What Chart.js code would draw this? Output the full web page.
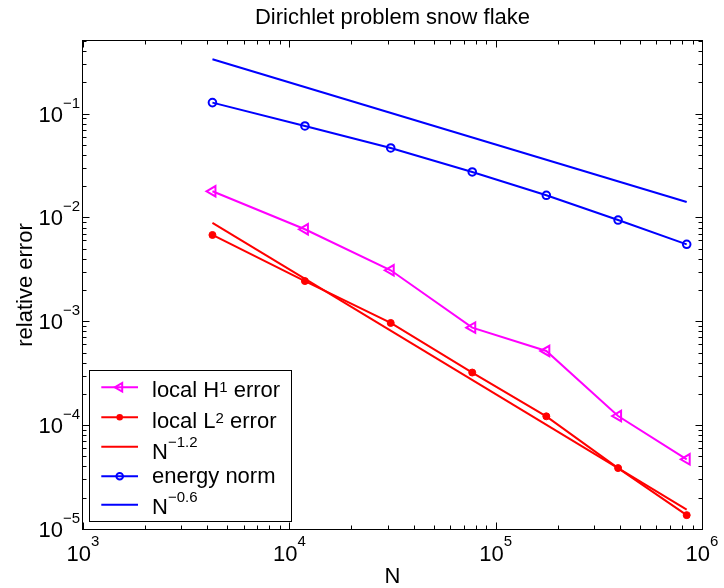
<!DOCTYPE html>
<html>
<head>
<meta charset="utf-8">
<script src="https://cdn.jsdelivr.net/npm/chart.js@4.4.0/dist/chart.umd.min.js"></script>
<style>
  html, body { margin: 0; padding: 0; background: #fff; }
  #wrap { width: 724px; height: 588px; }
</style>
</head>
<body>
<div id="wrap"><canvas id="myChart" width="724" height="588"></canvas></div>
<script>
// valeurs
const nValues = [4240, 11900, 31000, 77000, 176000, 392000, 843000];
const h1Error = [0.01786, 0.00769, 0.0031, 0.000869, 0.000518, 0.0001225, 0.0000469];
const l2Error = [0.00678, 0.00244, 0.000964, 0.000321, 0.0001216, 0.0000386, 0.0000136];
const energyNorm = [0.1276, 0.076, 0.0467, 0.0274, 0.01633, 0.00944, 0.00551];
// droites de reference (debut et fin)
const nEnds = [4240, 843000];
const rate12 = [0.00885, 0.0000154];
const rate06 = [0.3336, 0.01409];
// ticks
const xDecades = [3, 4, 5, 6];
const yDecades = [-5, -4, -3, -2, -1];

const FONT = '"Liberation Sans", Arial, sans-serif';
const MAGENTA = '#ff00ff', RED = '#ff0000', BLUE = '#0000ff';

function pts(xs, ys) {
    return xs.map((x, i) => ({ x: x, y: ys[i] }));
}

// texte avec exposant, retourne la largeur
function richText(ctx, parts, x, y, align, size, supSize, raise) {
    let w = 0;
    parts.forEach(p => {
        ctx.font = (p.sup ? supSize : size) + 'px ' + FONT;
        w += ctx.measureText(p.t).width;
    });
    let cx = x;
    if (align === 'center') cx = x - w / 2;
    if (align === 'right') cx = x - w;
    ctx.textAlign = 'left';
    ctx.textBaseline = 'alphabetic';
    parts.forEach(p => {
        ctx.font = (p.sup ? supSize : size) + 'px ' + FONT;
        ctx.fillText(p.t, cx, p.sup ? y - raise : y);
        cx += ctx.measureText(p.t).width;
    });
    return w;
}

function marker(ctx, style, x, y, r, color) {
    ctx.save();
    ctx.strokeStyle = color;
    ctx.fillStyle = color;
    ctx.lineWidth = 2;
    if (style === 'tri') {
        ctx.beginPath();
        ctx.moveTo(x - r, y);
        ctx.lineTo(x + r * 0.5, y - r * 0.866);
        ctx.lineTo(x + r * 0.5, y + r * 0.866);
        ctx.closePath();
        ctx.stroke();
    } else if (style === 'dot') {
        ctx.beginPath();
        ctx.arc(x, y, r, 0, Math.PI * 2);
        ctx.fill();
    } else if (style === 'ring') {
        ctx.beginPath();
        ctx.arc(x, y, r, 0, Math.PI * 2);
        ctx.stroke();
    }
    ctx.restore();
}

const legendItems = [
    { color: MAGENTA, mark: 'tri', r: 5, ly: 387.3, tb: 397.3, raise: 5.5,
      parts: [{ t: 'local H' }, { t: '1', sup: true }, { t: ' error' }] },
    { color: RED, mark: 'dot', r: 3.3, ly: 417.3, tb: 428, raise: 5.5,
      parts: [{ t: 'local L' }, { t: '2', sup: true }, { t: ' error' }] },
    { color: RED, mark: null, ly: 446.7, tb: 458.7, raise: 11.5,
      parts: [{ t: 'N' }, { t: '\u22121.2', sup: true }] },
    { color: BLUE, mark: 'ring', r: 3.3, ly: 476.3, tb: 483, raise: 0,
      parts: [{ t: 'energy norm' }] },
    { color: BLUE, mark: null, ly: 504.7, tb: 513.7, raise: 11.5,
      parts: [{ t: 'N' }, { t: '\u22120.6', sup: true }] }
];

const matlabAxes = {
    id: 'matlabAxes',
    afterDraw(chart) {
        const ctx = chart.ctx;
        const a = chart.chartArea;
        const xs = chart.scales.x, ys = chart.scales.y;
        ctx.save();
        ctx.strokeStyle = '#000';
        ctx.fillStyle = '#000';
        ctx.lineWidth = 1;

        const L = a.left - 0.5, R = a.right + 0.5, T = a.top - 0.5, B = a.bottom + 0.5;
        ctx.strokeRect(L, T, R - L, B - T);

        function seg(x1, y1, x2, y2) {
            ctx.beginPath(); ctx.moveTo(x1, y1); ctx.lineTo(x2, y2); ctx.stroke();
        }
        // ticks x
        xDecades.forEach(d => {
            for (let k = 1; k <= 9; k++) {
                const v = k * Math.pow(10, d);
                if (v > xs.max * 1.0001) break;
                const len = k === 1 ? 7 : 4;
                const px = Math.round(xs.getPixelForValue(v)) + 0.5;
                seg(px, B, px, B - len);
                seg(px, T, px, T + len);
            }
        });
        // ticks y
        yDecades.forEach(d => {
            for (let k = 1; k <= 9; k++) {
                const v = k * Math.pow(10, d);
                if (v > ys.max * 1.0001) break;
                const len = k === 1 ? 7 : 4;
                const py = Math.round(ys.getPixelForValue(v)) + 0.5;
                seg(L, py, L + len, py);
                seg(R, py, R - len, py);
            }
        });

        // labels des ticks
        xDecades.forEach(d => {
            const px = xs.getPixelForValue(Math.pow(10, d));
            richText(ctx, [{ t: '10' }, { t: String(d), sup: true }], px, 561, 'center', 22, 15, 15);
        });
        yDecades.forEach(d => {
            const py = ys.getPixelForValue(Math.pow(10, d));
            richText(ctx, [{ t: '10' }, { t: '\u2212' + Math.abs(d), sup: true }], 80, py + 8, 'right', 22, 15, 14);
        });

        // titres
        ctx.font = '22px ' + FONT;
        ctx.textAlign = 'center';
        ctx.textBaseline = 'alphabetic';
        ctx.fillText('Dirichlet problem snow flake', (a.left + a.right) / 2, 24);
        ctx.fillText('N', (a.left + a.right) / 2, 583);
        ctx.save();
        ctx.translate(32, (a.top + a.bottom) / 2);
        ctx.rotate(-Math.PI / 2);
        ctx.fillText('relative error', 0, 0);
        ctx.restore();

        // legende
        ctx.fillStyle = '#fff';
        ctx.fillRect(89.5, 370.5, 202, 151);
        ctx.strokeStyle = '#000';
        ctx.strokeRect(89.5, 370.5, 202, 151);
        legendItems.forEach(it => {
            ctx.strokeStyle = it.color;
            ctx.lineWidth = 2;
            seg(101.3, it.ly, 138, it.ly);
            if (it.mark) marker(ctx, it.mark, 119.7, it.ly, it.r, it.color);
            ctx.fillStyle = '#000';
            richText(ctx, it.parts, 152, it.tb, 'left', 22, 15, it.raise);
        });
        ctx.restore();
    }
};

const ctx = document.getElementById('myChart').getContext('2d');
const myChart = new Chart(ctx, {
    type: 'line',
    data: {
        datasets: [
            {
                label: 'local H1 error',
                data: pts(nValues, h1Error),
                borderColor: MAGENTA,
                borderWidth: 2,
                pointStyle: 'triangle',
                pointRotation: -90,
                pointRadius: 6,
                pointBorderWidth: 2,
                pointBorderColor: MAGENTA,
                pointBackgroundColor: 'rgba(0,0,0,0)',
                tension: 0,
                fill: false
            },
            {
                label: 'local L2 error',
                data: pts(nValues, l2Error),
                borderColor: RED,
                borderWidth: 2,
                pointStyle: 'circle',
                pointRadius: 3.5,
                pointBorderWidth: 1,
                pointBorderColor: RED,
                pointBackgroundColor: RED,
                tension: 0,
                fill: false
            },
            {
                label: 'N^-1.2',
                data: pts(nEnds, rate12),
                borderColor: RED,
                borderWidth: 2,
                pointRadius: 0,
                tension: 0,
                fill: false
            },
            {
                label: 'energy norm',
                data: pts(nValues, energyNorm),
                borderColor: BLUE,
                borderWidth: 2,
                pointStyle: 'circle',
                pointRadius: 3.8,
                pointBorderWidth: 2,
                pointBorderColor: BLUE,
                pointBackgroundColor: 'rgba(0,0,0,0)',
                tension: 0,
                fill: false
            },
            {
                label: 'N^-0.6',
                data: pts(nEnds, rate06),
                borderColor: BLUE,
                borderWidth: 2,
                pointRadius: 0,
                tension: 0,
                fill: false
            }
        ]
    },
    options: {
        responsive: false,
        animation: false,
        layout: { padding: { left: 83, top: 41, right: 22, bottom: 59 } },
        plugins: {
            legend: { display: false },
            tooltip: { enabled: false },
            title: { display: false }
        },
        scales: {
            x: {
                type: 'logarithmic',
                min: 1000,
                max: 1000000,
                ticks: { display: false },
                grid: { display: false },
                border: { display: false },
                afterFit: s => { s.height = 0; }
            },
            y: {
                type: 'logarithmic',
                min: 0.00001,
                max: 0.5,
                ticks: { display: false },
                grid: { display: false },
                border: { display: false },
                afterFit: s => { s.width = 0; }
            }
        }
    },
    plugins: [matlabAxes]
});
</script>
</body>
</html>
